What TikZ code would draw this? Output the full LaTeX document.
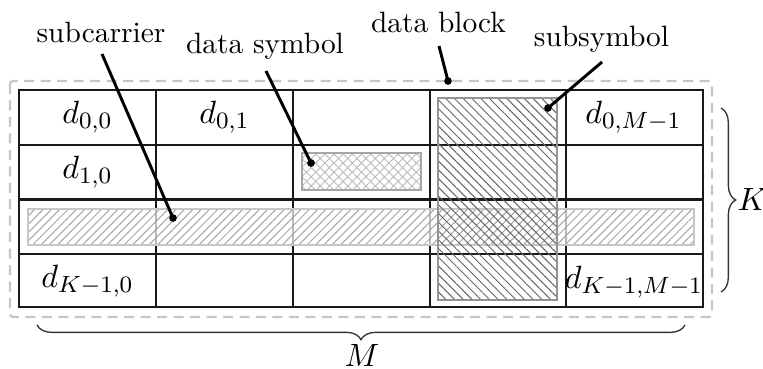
\documentclass[tikz,border=0pt]{standalone}
\usetikzlibrary{patterns.meta,decorations.pathreplacing}
\begin{document}
\begin{tikzpicture}[x=0.34pt,y=-0.34pt,
  gridline/.style={line width=0.95pt, black!90},
  txt/.style={font=\fontsize{10}{12}\selectfont, inner sep=0pt, anchor=base},
  mlbl/.style={font=\fontsize{11}{13}\selectfont, inner sep=0pt},
  pointer/.style={line width=1pt, black},
  dotmark/.style={circle, fill=black, inner sep=0pt, minimum size=2.6pt},
  bracestyle/.style={decorate, decoration={brace, amplitude=5pt}, line width=0.45pt, black!80}]
\useasboundingbox (0,0) rectangle (763,369);

% grid
\draw[gridline] (19,90) rectangle (703,307);
\foreach \x in {156,293,430,566} \draw[gridline] (\x,90) -- (\x,307);
\foreach \y in {145,199.5,254} \draw[gridline] (19,\y) -- (703,\y);

% cell labels
\node[mlbl] (d00) at (87.5,117.5) {$d_{0,0}$};
\node[mlbl] (d01) at (224.5,117.5) {$d_{0,1}$};
\node[mlbl] (d0M) at (633.5,117.5) {$d_{0,M-1}$};
\node[mlbl] (d10) at (87.5,172) {$d_{1,0}$};
\node[mlbl] (dK0) at (87.5,281) {$d_{K-1,0}$};
\node[mlbl] (dKM) at (634,282) {$d_{K-1,M-1}$};

% subcarrier (row)
\fill[white, fill opacity=0.7] (28,209) rectangle (694,245);
\path[pattern={Lines[angle=45,distance=2pt,line width=0.35pt]}, pattern color=gray!70] (28,209) rectangle (694,245);
\draw[gray!45, line width=0.8pt] (28,209) rectangle (694,245);

% subsymbol (column)
\path[pattern={Lines[angle=-45,distance=2.1pt,line width=0.33pt]}, pattern color=black!60] (438,98) rectangle (557,300);
\draw[gray!85, line width=0.8pt] (438,98) rectangle (557,300);

% data symbol
\path[pattern={Lines[angle=45,distance=2.2pt,line width=0.3pt]}, pattern color=gray!55] (302,153) rectangle (421,190);
\path[pattern={Lines[angle=-45,distance=2.2pt,line width=0.3pt]}, pattern color=gray!55] (302,153) rectangle (421,190);
\draw[gray!70, line width=0.8pt] (302,153) rectangle (421,190);

% data block
\draw[gray!45, line width=0.75pt, dash pattern=on 3.4pt off 2.2pt, rounded corners=1pt] (10,81) rectangle (712,317);

% labels
\node[txt] (subc) at (101,43) {subcarrier};
\node[txt] (dsym) at (265,53) {data symbol};
\node[txt] (dblk) at (438.5,33) {data block};
\node[txt] (ssym) at (601.5,46) {subsymbol};

\coordinate (subcS) at (102,54);
\coordinate (dsymS) at (266,71);
\coordinate (dblkS) at (439,46);
\coordinate (ssymS) at (602,62);

\node[dotmark] (subcD) at (173,218) {};
\node[dotmark] (dsymD) at (311,163) {};
\node[dotmark] (dblkD) at (448,81) {};
\node[dotmark] (ssymD) at (548,108) {};

\draw[pointer] (subcS) -- (subcD.center);
\draw[pointer] (dsymS) -- (dsymD.center);
\draw[pointer] (dblkS) -- (dblkD.center);
\draw[pointer] (ssymS) -- (ssymD.center);

% braces
\coordinate (kT) at (721,108);
\coordinate (kB) at (721,292);
\draw[bracestyle] (kT) -- (kB);
\node[mlbl, anchor=west] (K) at (737,199) {$K$};

\coordinate (mR) at (685,325);
\coordinate (mL) at (37,325);
\draw[bracestyle] (mR) -- (mL);
\node[mlbl, anchor=north] (M) at (362,344) {$M$};
\end{tikzpicture}
\end{document}
